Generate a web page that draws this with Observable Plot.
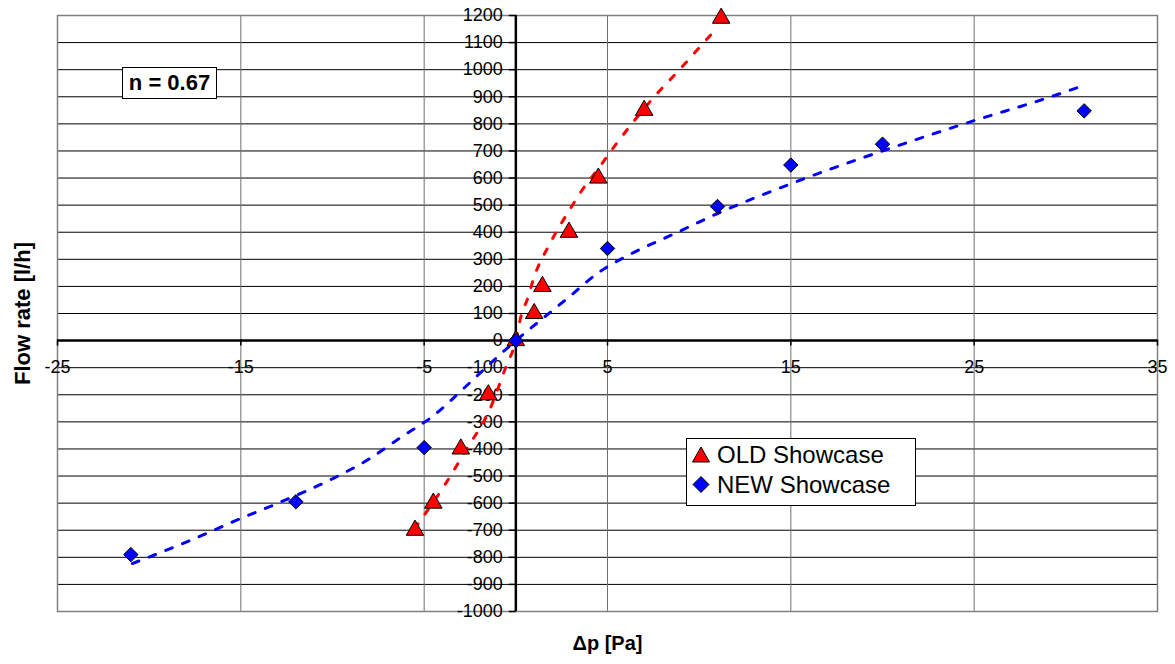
<!DOCTYPE html>
<html>
<head>
<meta charset="utf-8">
<script src="https://cdn.jsdelivr.net/npm/d3@7"></script>
<script src="https://cdn.jsdelivr.net/npm/@observablehq/plot@0.6"></script>
<style>
  html, body { margin: 0; padding: 0; background: #fff; }
  body { font-family: "Liberation Sans", Arial, sans-serif; }
  #wrap { position: relative; width: 1175px; height: 664px; }
  .box { position: absolute; background: #fff; border: 1px solid #000; box-sizing: border-box; }
  #nbox { left: 122px; top: 67px; width: 95px; height: 32px; font-weight: bold; font-size: 22px; line-height: 30px; text-align: center; }
  #legend { left: 686px; top: 438px; width: 230px; height: 68px; font-size: 24px; }
  .li { position: absolute; left: 0; height: 30px; line-height: 30px; white-space: nowrap; }
  .li svg { position: absolute; left: 4px; top: 5px; }
  .li span { position: absolute; left: 30px; }
</style>
</head>
<body>
<div id="wrap"></div>
<script>
// ---- data ----
const oldDp = [-5.5, -4.5, -3.0, -1.5, 0, 1.0, 1.45, 2.9, 4.5, 7.0, 11.2];
const oldQ  = [-700, -600, -400, -200, 0, 100, 200, 400, 600, 850, 1190];

const newDp = [-21, -12, -5, 0, 5, 11, 15, 20, 31];
const newQ  = [-790, -595, -395, 0, 340, 495, 648, 725, 848];

// dashed trend curves
const oldTrendDp = [-5.53, -3.83, -2.74, -1.38, -0.56, 0, 0.26, 0.64, 0.97, 1.89, 2.98, 3.53, 4.5, 5.5, 6.5, 7.51, 8.98, 10.45, 10.9];
const oldTrendQ  = [-694, -528, -406, -248, -100, 0, 85, 155, 229, 362, 488, 547, 635, 728, 815, 897, 1004, 1115, 1148];

const newTrendDp = [-20.92, -17.91, -14.91, -12.9, -10, -8, -6.29, -4.49, -2.85, -1.22, 0, 1.18, 2.87, 4.51, 6.42, 8.44, 11, 15, 20, 25, 28.73, 30.99];
const newTrendQ  = [-823, -742, -654, -598, -510, -437, -358, -277, -177, -74, 0, 66, 159, 251, 325, 388, 469, 579, 700, 812, 890, 942];

const xTicks = [-25, -15, -5, 5, 15, 25, 35];
const yTicks = [-1000, -900, -800, -700, -600, -500, -400, -300, -200, -100, 0, 100, 200, 300, 400, 500, 600, 700, 800, 900, 1000, 1100, 1200];

const seriesNames = ["OLD Showcase", "NEW Showcase"];
const xTitle = "Δp [Pa]";
const yTitle = "Flow rate [l/h]";
const annotation = "n = 0.67";

// ---- tick symbols ----
const tickLeft = { draw(ctx) { ctx.moveTo(0, 0); ctx.lineTo(-7, 0); } };
const tickDown = { draw(ctx) { ctx.moveTo(0, -1); ctx.lineTo(0, 5); } };

const font = "Liberation Sans, Arial, sans-serif";

const chart = Plot.plot({
  width: 1175,
  height: 664,
  marginLeft: 57,
  marginRight: 18,
  marginTop: 15,
  marginBottom: 53,
  style: { fontFamily: font, background: "#fff", color: "#000" },
  x: { domain: [-25, 35], axis: null },
  y: { domain: [-1000, 1200], axis: null },
  marks: [
    Plot.ruleY(yTicks, { y: d => d, stroke: "#000", strokeWidth: 1 }),
    Plot.ruleX(xTicks, { x: d => d, stroke: "#707070", strokeWidth: 1 }),
    Plot.frame({ stroke: "#808080", strokeWidth: 1.5 }),
    Plot.ruleY([0], { stroke: "#000", strokeWidth: 2.5 }),
    Plot.ruleX([0], { stroke: "#000", strokeWidth: 2.5 }),
    Plot.dot(yTicks, { x: () => 0, y: d => d, symbol: tickLeft, fill: "none", stroke: "#000", strokeWidth: 1.5 }),
    Plot.dot(xTicks, { x: d => d, y: () => 0, symbol: tickDown, fill: "none", stroke: "#000", strokeWidth: 1.5 }),
    Plot.text(yTicks, { x: () => 0, y: d => d, text: d => String(d), textAnchor: "end", dx: -13, fontSize: 18, fill: "#000" }),
    Plot.text(xTicks, { x: d => d, y: () => 0, text: d => String(d), dy: 27, fontSize: 18, fill: "#000" }),
    Plot.text([xTitle], { frameAnchor: "bottom", dy: 38, fontSize: 20, fontWeight: "bold", fill: "#000" }),
    Plot.text([yTitle], { frameAnchor: "left", textAnchor: "middle", dx: -35, rotate: -90, fontSize: 22, fontWeight: "bold", fill: "#000" }),
    Plot.line(oldTrendDp, { x: oldTrendDp, y: oldTrendQ, stroke: "#ff0000", strokeWidth: 3, strokeDasharray: "6,12", curve: "monotone-x" }),
    Plot.line(newTrendDp, { x: newTrendDp, y: newTrendQ, stroke: "#0000ff", strokeWidth: 3, strokeDasharray: "7,11", curve: "monotone-x" }),
    Plot.dot(oldDp, { x: oldDp, y: oldQ, symbol: "triangle", r: 6.5, fill: "#ff0000", stroke: "#000", strokeWidth: 1 }),
    Plot.dot(newDp, { x: newDp, y: newQ, symbol: "diamond2", r: 6.5, fill: "#0000ff", stroke: "#000", strokeWidth: 1 })
  ]
});

const wrap = document.getElementById("wrap");
wrap.appendChild(chart);

const nbox = document.createElement("div");
nbox.className = "box";
nbox.id = "nbox";
nbox.textContent = annotation;
wrap.appendChild(nbox);

const legend = document.createElement("div");
legend.className = "box";
legend.id = "legend";
legend.innerHTML = `
  <div class="li" style="top:1px"><svg width="22" height="20"><path d="M10,2 L18.5,17 L1.5,17 Z" fill="#ff0000" stroke="#000" stroke-width="1"/></svg><span>${seriesNames[0]}</span></div>
  <div class="li" style="top:31px"><svg width="22" height="20"><path d="M10,1.5 L18,9.5 L10,17.5 L2,9.5 Z" fill="#0000ff" stroke="#000" stroke-width="1"/></svg><span>${seriesNames[1]}</span></div>`;
wrap.appendChild(legend);
</script>
</body>
</html>
